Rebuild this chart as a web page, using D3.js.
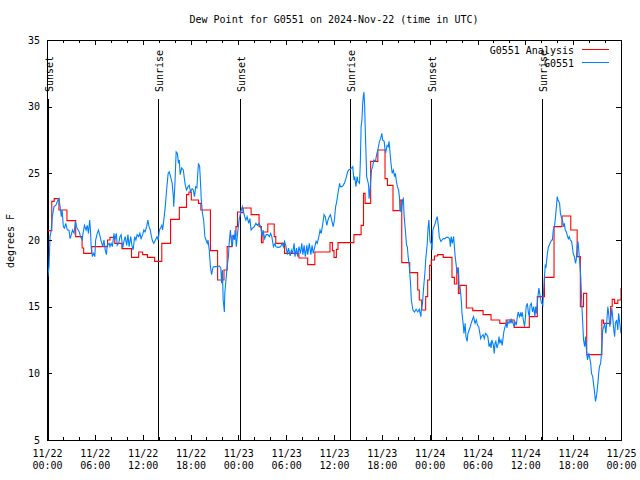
<!DOCTYPE html>
<html><head><meta charset="utf-8">
<script src="https://cdn.jsdelivr.net/npm/d3@7"></script>
<style>
body{margin:0;background:#fff;}
svg text{font-family:"DejaVu Sans Mono",monospace;font-size:10px;fill:#000;}
</style></head><body>
<svg id="c" width="640" height="480"></svg>
<script>
const title = "Dew Point for G0551 on 2024-Nov-22 (time in UTC)";
const yLabel = "degrees F";
const tickHours = [0,6,12,18,24,30,36,42,48,54,60,66,72];
const tickDates = ["11/22","11/22","11/22","11/22","11/23","11/23","11/23","11/23","11/24","11/24","11/24","11/24","11/25"];
const tickTimes = ["00:00","06:00","12:00","18:00","00:00","06:00","12:00","18:00","00:00","06:00","12:00","18:00","00:00"];
const yTicks = [5,10,15,20,25,30,35];
const sunEvents = ["Sunset","Sunrise","Sunset","Sunrise","Sunset","Sunrise"];
const sunHours = [0.1,13.92,24.2,38.0,48.17,62.1];
const seriesNames = ["G0551 Analysis","G0551"];
const seriesColors = ["#ff0000","#0080ff"];

// Analysis (hours since 11/22 00:00 UTC, deg F) - stepped
const anaHours = [0,0.6,0.9,1.5,2.5,3.6,4.4,4.6,5.6,7.6,7.9,8.5,9.4,10.6,11.5,12.0,12.6,13.5,14.4,15.5,16.6,17.5,17.8,18.1,19.0,19.3,20.5,21.4,22.2,22.6,23.2,23.7,23.9,24.3,24.6,25.6,26.6,26.9,27.1,27.7,28.5,28.7,29.8,31.6,32.7,33.6,35.5,35.8,36.0,36.3,36.5,38.5,39.4,39.7,39.9,40.6,41.5,42.4,42.7,43.4,44.3,44.5,45.5,46.5,46.7,47.0,47.5,47.75,48.0,48.2,48.6,49.0,49.7,50.8,51.1,51.4,51.6,51.8,52.6,53.4,54.7,55.7,56.8,57.6,58.6,60.5,61.5,62.4,63.6,64.6,65.7,66.5,66.9,67.3,67.7,69.6,69.8,70.7,70.9,71.2,71.6,72.0];
const anaValues = [20.7,22.9,23.1,22.25,21.45,20.25,19.4,19.0,19.5,20.0,20.2,19.75,19.35,18.7,19.1,18.9,18.7,18.4,19.75,21.55,22.45,23.4,23.6,23.0,22.75,22.25,19.2,17.0,17.75,19.5,20.3,21.0,22.1,22.05,22.4,21.9,21.0,19.8,20.6,21.2,20.25,19.75,19.0,18.65,18.15,19.1,19.8,19.2,18.7,19.3,19.8,20.4,21.1,23.5,22.75,25.9,26.75,24.6,24.1,22.2,23.0,18.3,17.55,16.25,15.5,14.75,15.75,17.0,18.1,18.5,18.8,18.9,18.7,17.2,16.7,17.9,16.0,16.6,14.9,14.7,14.4,14.0,13.75,14.0,13.45,14.25,15.75,17.2,21.0,21.8,20.75,18.75,15.0,16.0,11.4,14.0,13.75,15.0,15.55,15.25,15.5,16.4];

// Station observations
const obsHours = [0.04,0.1,0.25,0.38,0.54,0.67,0.88,1.1,1.3,1.5,1.6,1.8,1.9,2.05,2.2,2.35,2.55,2.75,2.9,3.05,3.2,3.4,3.55,3.7,3.9,4.05,4.2,4.4,4.55,4.7,4.9,5.05,5.2,5.35,5.45,5.55,5.7,5.85,6.0,6.1,6.3,6.45,6.6,6.8,7.0,7.15,7.3,7.45,7.55,7.8,7.9,8.05,8.2,8.4,8.5,8.7,8.8,9.0,9.15,9.3,9.5,9.65,9.8,10.0,10.15,10.3,10.5,10.65,10.8,11.0,11.15,11.3,11.5,11.65,11.8,12.0,12.15,12.3,12.5,12.65,12.8,12.95,13.1,13.25,13.4,13.6,13.8,13.95,14.1,14.25,14.4,14.5,14.7,14.85,15.0,15.2,15.35,15.5,15.7,15.85,15.9,16.05,16.2,16.35,16.5,16.6,16.7,16.9,17.1,17.2,17.35,17.5,17.7,17.85,18.0,18.2,18.35,18.5,18.65,18.8,18.9,19.0,19.15,19.3,19.35,19.5,19.65,19.8,19.95,20.1,20.2,20.35,20.5,20.65,20.8,20.95,21.2,21.4,21.6,21.8,21.9,22.0,22.1,22.25,22.3,22.45,22.6,22.75,22.85,23.0,23.1,23.25,23.35,23.5,23.6,23.75,23.9,24.1,24.3,24.5,24.6,24.8,24.95,25.1,25.3,25.45,25.6,25.8,26.0,26.2,26.4,26.6,26.8,27.0,27.1,27.3,27.5,27.7,27.9,28.05,28.2,28.4,28.6,28.7,28.95,29.1,29.3,29.5,29.65,29.8,29.95,30.15,30.3,30.5,30.65,30.8,31.0,31.1,31.3,31.45,31.6,31.8,31.95,32.1,32.25,32.4,32.6,32.7,32.9,33.1,33.25,33.4,33.6,33.75,33.9,34.1,34.25,34.4,34.6,34.75,34.9,35.1,35.25,35.4,35.55,35.75,35.9,36.05,36.2,36.3,36.5,36.7,36.8,37.0,37.15,37.3,37.5,37.7,37.85,38.0,38.2,38.35,38.5,38.6,38.75,38.9,39.0,39.2,39.3,39.4,39.5,39.6,39.7,39.75,39.85,39.9,40.0,40.1,40.3,40.35,40.4,40.55,40.7,40.85,41.0,41.2,41.35,41.5,41.7,41.85,42.0,42.1,42.3,42.4,42.5,42.65,42.8,42.9,43.0,43.15,43.3,43.45,43.6,43.7,43.8,43.95,44.1,44.2,44.3,44.45,44.6,44.7,44.8,44.95,45.1,45.2,45.3,45.45,45.6,45.7,45.9,46.1,46.3,46.5,46.7,46.9,46.95,47.1,47.25,47.4,47.5,47.7,47.8,47.9,48.05,48.2,48.3,48.4,48.55,48.7,48.85,48.95,49.1,49.2,49.4,49.55,49.7,49.9,50.1,50.3,50.5,50.6,50.7,50.85,51.0,51.1,51.2,51.35,51.5,51.6,51.7,51.85,52.0,52.05,52.2,52.3,52.45,52.55,52.7,52.8,52.95,53.1,53.2,53.35,53.5,53.6,53.7,53.85,54.0,54.15,54.3,54.4,54.5,54.7,54.85,55.0,55.15,55.3,55.45,55.6,55.7,55.8,56.0,56.1,56.2,56.3,56.45,56.6,56.7,56.8,56.95,57.1,57.2,57.3,57.45,57.6,57.7,57.8,57.95,58.1,58.2,58.3,58.45,58.6,58.7,58.85,59.0,59.1,59.25,59.4,59.5,59.6,59.75,59.9,60.0,60.1,60.25,60.4,60.5,60.6,60.75,60.9,61.05,61.2,61.3,61.4,61.55,61.7,61.8,61.9,62.05,62.2,62.3,62.4,62.5,62.6,62.75,62.9,63.0,63.1,63.3,63.4,63.5,63.65,63.75,63.9,64.0,64.1,64.3,64.4,64.5,64.65,64.8,64.9,65.0,65.15,65.3,65.4,65.5,65.65,65.8,65.9,66.0,66.15,66.3,66.4,66.5,66.6,66.7,66.8,66.95,67.1,67.2,67.3,67.45,67.55,67.7,67.8,67.95,68.05,68.2,68.3,68.45,68.55,68.7,68.8,68.95,69.1,69.2,69.3,69.45,69.6,69.7,69.85,69.95,70.1,70.2,70.35,70.45,70.6,70.7,70.85,70.95,71.1,71.2,71.3,71.45,71.6,71.7,71.85,72.0];
const obsValues = [17.6,17.25,18.0,20.25,20.75,21.75,22.5,22.6,22.9,23.1,22.7,21.75,22.25,21.0,20.9,21.25,20.75,20.75,20.1,20.4,20.75,20.5,21.4,21.0,20.75,20.6,20.25,20.0,20.6,21.1,20.75,21.1,20.5,21.5,20.75,19.4,18.75,19.0,18.75,20.0,20.5,20.75,20.4,19.9,19.5,20.0,19.25,18.9,19.6,19.75,19.5,19.75,19.5,20.5,20.0,20.5,19.6,19.75,20.25,20.4,19.4,19.9,20.25,19.6,20.4,19.5,20.25,19.6,19.25,20.25,20.0,20.4,20.25,20.5,20.1,20.4,20.75,20.6,21.0,21.5,21.0,20.75,20.25,19.9,19.75,20.0,20.25,20.0,20.75,20.9,21.1,20.75,21.75,22.6,23.75,25.0,25.1,24.75,24.25,23.25,22.5,24.25,26.6,26.5,25.75,26.0,24.9,25.4,25.25,24.75,24.1,23.75,24.0,24.1,23.6,23.85,23.75,23.25,24.0,23.9,24.9,25.75,25.5,23.75,23.0,22.0,21.5,20.25,20.0,19.75,20.0,19.25,18.0,17.4,17.9,18.0,18.0,18.0,18.05,17.9,16.75,17.75,15.5,14.6,16.0,17.0,18.0,18.75,19.75,20.75,20.0,19.5,20.4,20.0,20.75,19.5,20.5,21.5,22.1,22.5,22.25,21.75,21.5,21.75,21.25,21.6,20.75,20.9,21.0,21.25,21.1,21.25,21.0,20.25,20.75,20.1,20.4,20.4,20.25,20.5,20.25,19.5,19.75,19.5,19.45,19.45,19.5,19.75,19.5,19.9,19.6,18.9,19.4,18.8,19.25,19.0,19.75,18.75,19.4,18.75,19.5,19.0,19.75,18.9,19.6,18.75,19.6,18.9,19.75,18.9,19.6,19.0,19.5,19.9,19.75,20.25,20.75,20.5,21.25,21.9,21.75,21.1,21.5,21.75,21.9,21.4,21.0,21.5,22.5,22.75,23.5,24.25,24.0,24.0,24.1,24.25,24.6,25.1,25.25,25.3,25.4,25.5,24.5,24.75,24.0,24.75,24.4,24.25,25.75,28.5,29.0,30.25,30.9,31.1,30.0,28.75,26.75,24.75,24.25,24.0,23.1,24.0,25.25,25.5,26.0,25.9,26.4,26.75,27.4,27.6,28.0,27.5,27.4,26.75,26.6,27.1,27.0,27.4,26.75,25.75,25.0,25.25,24.75,25.0,24.5,24.0,23.75,23.25,22.25,22.1,23.0,23.1,21.75,20.75,19.6,19.5,18.75,18.0,16.75,15.5,14.75,14.6,14.8,14.6,14.8,14.25,14.75,15.25,16.5,17.5,18.5,19.75,20.9,21.5,19.9,19.75,19.25,20.75,21.0,21.25,21.6,21.75,21.0,20.25,19.9,20.0,20.1,20.1,20.2,20.2,20.1,19.5,20.25,19.75,20.25,19.5,18.75,18.0,17.5,17.9,16.5,16.25,15.25,14.5,13.75,13.0,13.75,12.75,12.4,13.0,13.25,13.5,13.75,14.0,14.25,14.0,13.75,14.0,13.6,13.5,13.0,12.6,12.75,12.9,12.6,13.0,12.9,12.75,12.0,12.25,11.9,12.5,12.1,11.5,12.25,12.4,11.9,12.25,12.75,12.25,12.5,12.1,12.6,13.1,13.5,13.75,13.4,13.9,13.75,14.0,13.75,14.0,13.75,13.5,13.9,13.6,14.25,14.6,14.25,14.5,14.25,14.6,14.0,13.5,14.1,15.0,15.25,14.5,14.25,15.1,15.25,14.6,15.0,14.25,15.0,14.5,15.6,16.4,16.0,15.6,15.25,15.1,16.25,17.25,18.1,18.0,18.9,19.5,19.6,19.75,20.0,20.0,20.75,21.0,21.5,22.5,23.25,23.0,22.75,22.0,21.75,21.5,21.0,21.25,20.75,20.6,20.25,20.1,20.25,20.0,19.9,19.5,19.0,18.75,18.25,18.6,19.5,19.9,19.25,18.5,17.25,15.0,13.75,12.5,12.0,12.75,11.5,11.0,11.5,11.25,10.75,10.0,9.75,9.25,8.5,7.9,8.4,9.25,10.0,10.5,10.75,12.0,13.25,13.5,13.75,13.0,13.75,15.0,14.5,13.5,14.0,14.9,14.25,13.25,12.75,13.75,14.0,13.25,14.5,13.75,13.0];

const svg = d3.select("#c");
const L = 47, R = 621, T = 40, B = 440;
const x = d3.scaleLinear().domain([0, 72]).range([L, R]);
const y = d3.scaleLinear().domain([5, 35]).range([B, T]);
const px = v => Math.round(v) + 0.5;

svg.append("rect").attr("width", 640).attr("height", 480).attr("fill", "#fff");

// title
svg.append("text").attr("x", 334).attr("y", 23).attr("text-anchor", "middle").text(title);

// clip
svg.append("clipPath").attr("id", "clip").append("rect")
  .attr("x", L).attr("y", T).attr("width", R - L + 1).attr("height", B - T + 1);

// sunrise / sunset lines
const sun = svg.append("g").attr("shape-rendering", "crispEdges");
sunHours.forEach((h, i) => {
  const xx = px(x(h));
  sun.append("line").attr("x1", xx).attr("x2", xx).attr("y1", 99).attr("y2", B)
    .attr("stroke", "#000").attr("stroke-width", 1);
  svg.append("text").attr("transform", `translate(${xx + 4.5},92) rotate(-90)`)
    .attr("text-anchor", "start").text(sunEvents[i]);
});

// series
const lineAna = d3.line().x((d) => x(d[0])).y((d) => y(d[1])).curve(d3.curveStepAfter);
const lineObs = d3.line().x((d) => x(d[0])).y((d) => y(d[1]));
const data = svg.append("g").attr("clip-path", "url(#clip)");
data.append("path").datum(anaHours.map((h, i) => [h, anaValues[i]]))
  .attr("d", lineAna).attr("fill", "none").attr("stroke", seriesColors[0]).attr("stroke-width", 1.1);
data.append("path").datum(obsHours.map((h, i) => [h, obsValues[i]]))
  .attr("d", lineObs).attr("fill", "none").attr("stroke", seriesColors[1]).attr("stroke-width", 1.1);

// axes (ticks point inward, mirrored)
const minorHours = d3.range(0, 73, 2).filter(h => h % 6 !== 0);
const ax = svg.append("g").attr("shape-rendering", "crispEdges");
function styleAxis(g) { g.select(".domain").remove(); g.selectAll("line").attr("stroke", "#000"); }

const xb = ax.append("g").attr("transform", `translate(0,${B})`)
  .call(d3.axisBottom(x).tickValues(tickHours).tickSizeInner(-5).tickSizeOuter(0).tickPadding(12)
    .tickFormat((d, i) => tickDates[i]));
styleAxis(xb);
xb.selectAll(".tick text").attr("font-family", null).attr("font-size", null).attr("dy", null).attr("y", 17);
xb.selectAll(".tick").append("text").attr("y", 29).attr("text-anchor", "middle")
  .text((d, i) => tickTimes[i]);
ax.append("g").attr("transform", `translate(0,${B})`)
  .call(d3.axisBottom(x).tickValues(minorHours).tickSizeInner(-3).tickSizeOuter(0).tickFormat(""))
  .call(styleAxis);
ax.append("g").attr("transform", `translate(0,${T})`)
  .call(d3.axisTop(x).tickValues(tickHours).tickSizeInner(-5).tickSizeOuter(0).tickFormat(""))
  .call(styleAxis);
ax.append("g").attr("transform", `translate(0,${T})`)
  .call(d3.axisTop(x).tickValues(minorHours).tickSizeInner(-3).tickSizeOuter(0).tickFormat(""))
  .call(styleAxis);

const yl = ax.append("g").attr("transform", `translate(${L},0)`)
  .call(d3.axisLeft(y).tickValues(yTicks).tickSizeInner(-5).tickSizeOuter(0).tickPadding(7));
styleAxis(yl);
yl.selectAll(".tick text").attr("font-family", null).attr("font-size", null);
ax.append("g").attr("transform", `translate(${R},0)`)
  .call(d3.axisRight(y).tickValues(yTicks).tickSizeInner(-5).tickSizeOuter(0).tickFormat(""))
  .call(styleAxis);
svg.selectAll(".tick text").attr("fill", "#000");

// border
svg.append("rect").attr("x", L + 0.5).attr("y", T + 0.5).attr("width", R - L).attr("height", B - T)
  .attr("fill", "none").attr("stroke", "#000").attr("shape-rendering", "crispEdges");

// y label
svg.append("text").attr("transform", "translate(14,241) rotate(-90)")
  .attr("text-anchor", "middle").text(yLabel);

// legend
const leg = svg.append("g");
seriesNames.forEach((n, i) => {
  const yy = 50 + i * 13;
  leg.append("text").attr("x", 574).attr("y", yy + 3.5).attr("text-anchor", "end").text(n);
  leg.append("line").attr("x1", 582).attr("x2", 609).attr("y1", yy - 0.5).attr("y2", yy - 0.5)
    .attr("stroke", seriesColors[i]).attr("stroke-width", 1).attr("shape-rendering", "crispEdges");
});
</script>
</body></html>
